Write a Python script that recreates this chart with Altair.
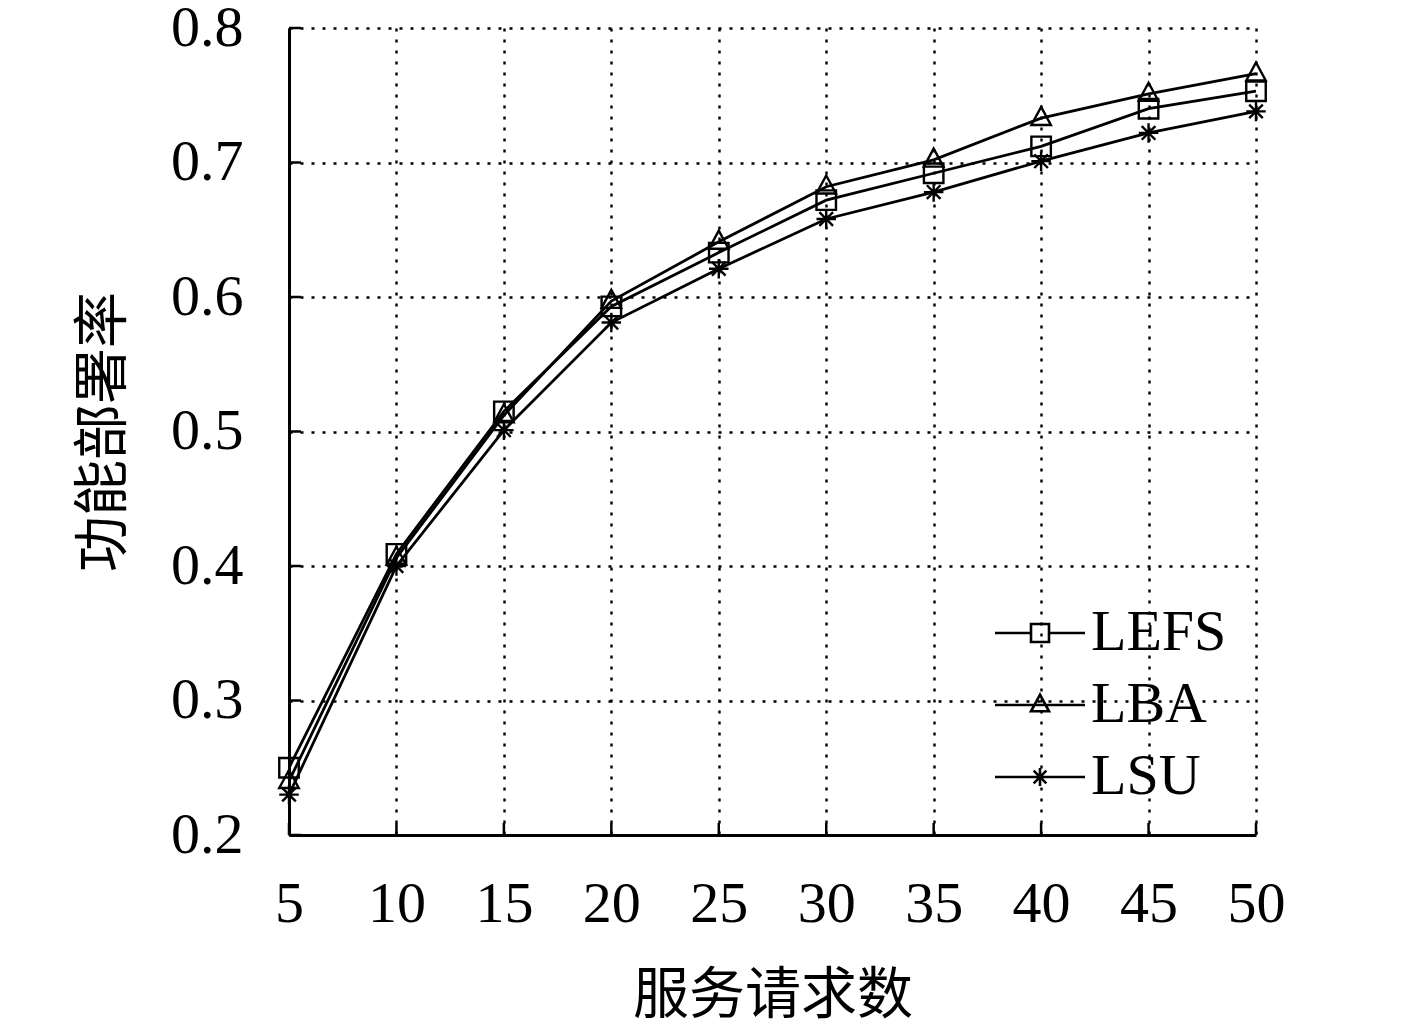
import altair as alt
import pandas as pd

# ---- data ----
x_vals = [5, 10, 15, 20, 25, 30, 35, 40, 45, 50]
lefs = [0.250, 0.409, 0.515, 0.593, 0.633, 0.672, 0.692, 0.712, 0.740, 0.753]
lba = [0.240, 0.406, 0.512, 0.597, 0.641, 0.682, 0.702, 0.733, 0.751, 0.766]
lsu = [0.230, 0.400, 0.501, 0.581, 0.621, 0.658, 0.678, 0.701, 0.722, 0.738]
series_names = ["LEFS", "LBA", "LSU"]
y_ticks = [0.2, 0.3, 0.4, 0.5, 0.6, 0.7, 0.8]

rows = []
for name, vals in zip(series_names, [lefs, lba, lsu]):
    for xv, yv in zip(x_vals, vals):
        rows.append({"n": xv, "rate": yv, "series": name})
df = pd.DataFrame(rows)

W, H = 967, 807
SERIF = "Liberation Serif"
CJK = "Noto Sans CJK SC"

xscale = alt.Scale(domain=[5, 50], nice=False, zero=False)
yscale = alt.Scale(domain=[0.2, 0.8], nice=False, zero=False)

x_axis = alt.Axis(
    values=x_vals, format="d", title="服务请求数",
    grid=True, gridColor="black", gridDash=[3, 8], gridWidth=2.4,
    domainColor="black", domainWidth=3, ticks=False,
    labelFont=SERIF, labelFontSize=58, labelColor="black", labelPadding=40,
    labelFlush=False,
    titleFont=CJK, titleFontSize=56, titleFontWeight="normal", titleColor="black",
    titlePadding=35,
)
y_axis = alt.Axis(
    values=y_ticks, format=".1f", title="功能部署率",
    grid=True, gridColor="black", gridDash=[3, 8], gridWidth=2.4,
    domainColor="black", domainWidth=3, ticks=False,
    labelFont=SERIF, labelFontSize=58, labelColor="black", labelPadding=46,
    labelFlush=False,
    titleFont=CJK, titleFontSize=56, titleFontWeight="normal", titleColor="black",
    titlePadding=38,
)

X = alt.X("n:Q", scale=xscale, axis=x_axis)
Y = alt.Y("rate:Q", scale=yscale, axis=y_axis)

sq = "M-1,-1H1V1H-1Z"
tri = "M0,-1.15L1,0.7L-1,0.7Z"
star = "M0,-1V1M-1,0H1M-0.7,-0.7L0.7,0.7M-0.7,0.7L0.7,-0.7"

sq_l = "M-5,0H-1M1,0H5M-1,-1H1V1H-1Z"
tri_l = "M-5,0H5M0,-1.15L1,0.7L-1,0.7Z"
star_l = "M-5,0H5M0,-1V1M-0.7,-0.7L0.7,0.7M-0.7,0.7L0.7,-0.7"

base = alt.Chart(df)

lines = base.mark_line(color="black", strokeWidth=2.8).encode(
    x=X, y=Y, detail="series:N"
)

points = base.mark_point(filled=False, color="black", strokeWidth=2.4, size=380, opacity=1).encode(
    x=X, y=Y,
    shape=alt.Shape("series:N",
                    scale=alt.Scale(domain=series_names, range=[sq, tri, star]),
                    legend=None),
)

legend_layer = base.mark_point(filled=False, color="black", strokeWidth=2, size=324, opacity=0).encode(
    x=X, y=Y,
    shape=alt.Shape("series:N",
                    scale=alt.Scale(domain=series_names, range=[sq_l, tri_l, star_l]),
                    legend=alt.Legend(
                        orient="none", legendX=722, legendY=576, title=None,
                        symbolSize=324, symbolStrokeColor="black", symbolStrokeWidth=2.6,
                        symbolOpacity=1, symbolFillColor="transparent",
                        labelFont=SERIF, labelFontSize=58, labelColor="black",
                        labelOffset=22, rowPadding=14, padding=0,
                    )),
)

xticks = alt.Chart(pd.DataFrame({"n": x_vals})).mark_rule(color="black", strokeWidth=2.5).encode(
    x=X, y=alt.value(H), y2=alt.value(H - 12)
)
yticks = alt.Chart(pd.DataFrame({"rate": y_ticks})).mark_rule(color="black", strokeWidth=2.5).encode(
    y=Y, x=alt.value(0), x2=alt.value(12)
)

chart = alt.layer(xticks, yticks, lines, points, legend_layer).resolve_scale(
    shape="independent"
).properties(
    width=W, height=H,
    autosize=alt.AutoSizeParams(type="none"),
    padding={"left": 281, "top": 20, "right": 130, "bottom": 187},
    background="white",
).configure_view(stroke=None)

chart.save("out.html", embed_options={"renderer": "svg", "actions": False})
